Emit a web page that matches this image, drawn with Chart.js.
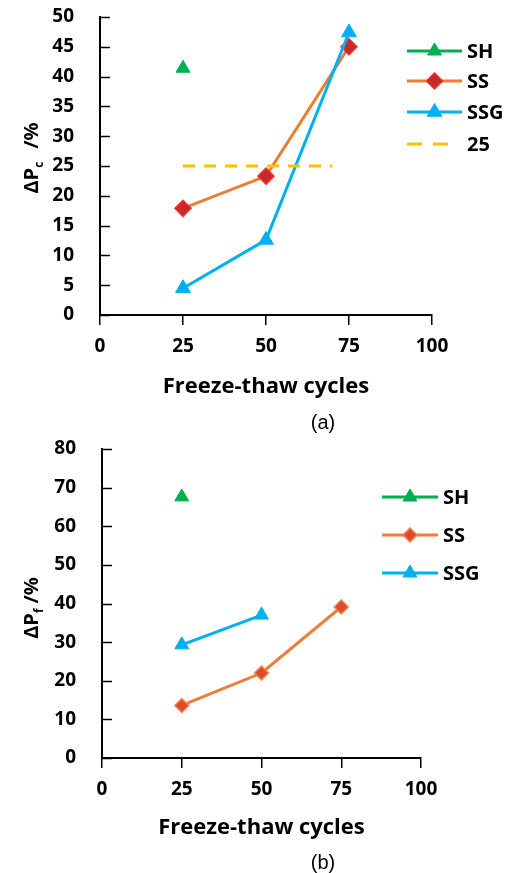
<!DOCTYPE html>
<html>
<head>
<meta charset="utf-8">
<script src="https://cdn.jsdelivr.net/npm/chart.js@4.4.1/dist/chart.umd.min.js"></script>
<style>
  body { margin: 0; background: #fff; width: 511px; height: 873px; overflow: hidden; position: relative; }
  canvas { position: absolute; left: 0; }
  #chartA { top: 0; }
  #chartB { top: 440px; }
  .cap { position: absolute; width: 60px; text-align: center; line-height: 24px;
         font-family: "Liberation Sans", Arial, sans-serif; font-size: 20px; color: #000; }
</style>
</head>
<body>
<canvas id="chartA" width="511" height="440"></canvas>
<canvas id="chartB" width="511" height="433"></canvas>
<div class="cap" style="left:293px; top:410px;">(a)</div>
<div class="cap" style="left:293px; top:850px;">(b)</div>
<script>
// freeze-thaw cycles
const cycles = [25, 50, 75];

// (a) delta Pc, %
const shA = [41.4];
const ssA = [17.9, 23.3, 45.0];
const ssgA = [4.5, 12.6, 47.4];
const limitX = [25, 70];
const limitA = [25, 25];

// (b) delta Pf, %
const shB = [67.6];
const ssB = [13.6, 22.0, 39.1];
const ssgB = [29.3, 37.0];

const xTicks = [0, 25, 50, 75, 100];

const FONT = '"Open Sans", Lato, sans-serif';
Chart.defaults.font.family = FONT;
Chart.defaults.color = '#000';

const pts = (xs, ys) => ys.map((v, i) => ({x: xs[i], y: v}));

// y ticks pointing into the plot
const innerTicks = {
  id: 'innerTicks',
  afterDraw(chart) {
    const ys = chart.scales.y, ctx = chart.ctx, left = chart.chartArea.left;
    ctx.save();
    ctx.strokeStyle = '#000';
    ctx.lineWidth = 1.5;
    ys.ticks.forEach(t => {
      const py = Math.round(ys.getPixelForValue(t.value)) + 0.5;
      ctx.beginPath();
      ctx.moveTo(left, py);
      ctx.lineTo(left + 10, py);
      ctx.stroke();
    });
    ctx.restore();
  }
};

// y title with subscript
const yTitle = {
  id: 'yTitle',
  afterDraw(chart, args, o) {
    const ctx = chart.ctx;
    const big = 'bold 20px ' + FONT, small = 'bold 12px ' + FONT;
    ctx.save();
    ctx.translate(o.x, o.y);
    ctx.rotate(-Math.PI / 2);
    ctx.fillStyle = '#000';
    ctx.textBaseline = 'alphabetic';
    ctx.font = big;
    const w1 = ctx.measureText(o.main).width;
    const w3 = ctx.measureText(o.rest).width;
    ctx.font = small;
    const w2 = ctx.measureText(o.sub).width;
    let x = -(w1 + w2 + o.gap + w3) / 2;
    ctx.font = big;
    ctx.fillText(o.main, x, 0);
    x += w1;
    ctx.font = small;
    ctx.fillText(o.sub, x, 5);
    x += w2 + o.gap;
    ctx.font = big;
    ctx.fillText(o.rest, x, 0);
    ctx.restore();
  }
};

// legend on the right
const sideLegend = {
  id: 'sideLegend',
  afterDraw(chart, args, o) {
    const ctx = chart.ctx;
    ctx.save();
    chart.data.datasets.forEach((ds, i) => {
      const y = o.rows[i];
      ctx.strokeStyle = ds.borderColor;
      ctx.lineWidth = ds.borderWidth;
      ctx.beginPath();
      if (ds.borderDash) {
        ctx.setLineDash(o.dash);
        ctx.moveTo(o.x0, y);
        ctx.lineTo(o.x0 + 43, y);
      } else {
        ctx.moveTo(o.x0, y);
        ctx.lineTo(o.x1, y);
      }
      ctx.stroke();
      ctx.setLineDash([]);
      if (ds.pointRadius > 0) {
        ctx.fillStyle = ds.pointBackgroundColor;
        ctx.strokeStyle = ds.pointBorderColor;
        ctx.lineWidth = ds.pointBorderWidth;
        Chart.helpers.drawPoint(ctx, {
          pointStyle: ds.pointStyle, radius: ds.pointRadius,
          borderWidth: ds.pointBorderWidth, rotation: 0
        }, (o.x0 + o.x1) / 2, y);
      }
      ctx.fillStyle = '#000';
      ctx.font = 'bold 20px ' + FONT;
      ctx.textBaseline = 'middle';
      ctx.fillText(ds.label, o.tx, y + 1);
    });
    ctx.restore();
  }
};

function scales(yMax, yStep, yWidth, xHeight) {
  return {
    x: {
      type: 'linear', min: 0, max: 100,
      afterBuildTicks(s) { s.ticks = xTicks.map(v => ({value: v})); },
      ticks: {padding: 10, font: {size: 19, weight: 'bold'}, maxRotation: 0},
      grid: {display: true, drawOnChartArea: false, drawTicks: true, tickLength: 10, color: '#000', lineWidth: 1.5},
      border: {color: '#000', width: 2},
      title: {display: true, text: 'Freeze-thaw cycles', font: {size: 22, weight: 'bold'}, padding: {top: 0, bottom: 4}},
      afterFit(s) { s.height = xHeight; }
    },
    y: {
      min: 0, max: yMax,
      ticks: {stepSize: yStep, padding: 18, font: {size: 19, weight: 'bold'}},
      grid: {display: false},
      border: {color: '#000', width: 2},
      afterFit(s) { s.width = yWidth; s.paddingTop = 0; s.paddingBottom = 0; }
    }
  };
}

new Chart(document.getElementById('chartA'), {
  type: 'line',
  data: {
    datasets: [
      {label: 'SH', data: pts(cycles, shA), showLine: false, borderColor: '#00B050', borderWidth: 3,
       pointStyle: 'triangle', pointRadius: 8, pointBackgroundColor: '#00B050', pointBorderColor: '#00B050', pointBorderWidth: 1, order: 4},
      {label: 'SS', data: pts(cycles, ssA), borderColor: '#ED7D31', borderWidth: 3,
       pointStyle: 'rectRot', pointRadius: 8, pointBackgroundColor: '#C42A2A', pointBorderColor: '#FF2A2A', pointBorderWidth: 1.5, order: 3},
      {label: 'SSG', data: pts(cycles, ssgA), borderColor: '#00B0F0', borderWidth: 3,
       pointStyle: 'triangle', pointRadius: 8.5, pointBackgroundColor: '#00B0F0', pointBorderColor: '#00B0F0', pointBorderWidth: 1, order: 2},
      {label: '25', data: pts(limitX, limitA), borderColor: '#FFC000', borderWidth: 3, borderDash: [12, 9],
       pointRadius: 0, order: 1}
    ]
  },
  options: {
    responsive: false, animation: false, devicePixelRatio: 1,
    clip: false,
    layout: {padding: {top: 17, right: 79, bottom: 36, left: 0}},
    scales: scales(50, 5, 100, 89),
    plugins: {
      legend: {display: false}, tooltip: {enabled: false},
      sideLegend: {x0: 407, x1: 462, tx: 467, rows: [51, 81, 112, 144], dash: [15, 11]},
      yTitle: {x: 38, y: 158, main: 'ΔP', sub: 'c', rest: '/%', gap: 13}
    }
  },
  plugins: [innerTicks, yTitle, sideLegend]
});

new Chart(document.getElementById('chartB'), {
  type: 'line',
  data: {
    datasets: [
      {label: 'SH', data: pts(cycles, shB), showLine: false, borderColor: '#00B050', borderWidth: 3,
       pointStyle: 'triangle', pointRadius: 8, pointBackgroundColor: '#00B050', pointBorderColor: '#00B050', pointBorderWidth: 1, order: 3},
      {label: 'SS', data: pts(cycles, ssB), borderColor: '#F07B3A', borderWidth: 3,
       pointStyle: 'rectRot', pointRadius: 7, pointBackgroundColor: '#DE4A2E', pointBorderColor: '#F2844A', pointBorderWidth: 1.5, order: 2},
      {label: 'SSG', data: pts(cycles, ssgB), borderColor: '#00B0F0', borderWidth: 3,
       pointStyle: 'triangle', pointRadius: 8, pointBackgroundColor: '#00B0F0', pointBorderColor: '#00B0F0', pointBorderWidth: 1, order: 1}
    ]
  },
  options: {
    responsive: false, animation: false, devicePixelRatio: 1,
    clip: false,
    layout: {padding: {top: 7, right: 90, bottom: 28, left: 0}},
    scales: scales(80, 10, 102, 87),
    plugins: {
      legend: {display: false}, tooltip: {enabled: false},
      sideLegend: {x0: 382, x1: 438, tx: 443, rows: [57, 95, 133], dash: [15, 11]},
      yTitle: {x: 38, y: 168, main: 'ΔP', sub: 'f', rest: '/%', gap: 5}
    }
  },
  plugins: [innerTicks, yTitle, sideLegend]
});
</script>
</body>
</html>
